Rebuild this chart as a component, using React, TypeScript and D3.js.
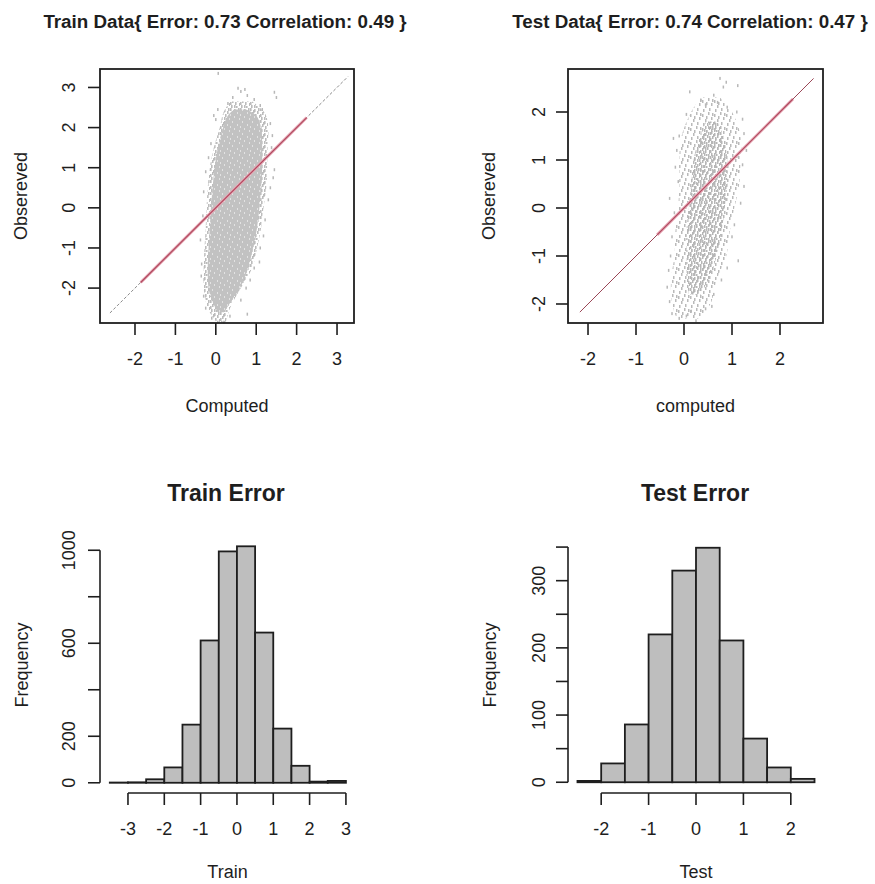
import React from "react";
import * as d3 from "d3";

// ---- histogram data ----
const trainBreaks = [-3.5, -3, -2.5, -2, -1.5, -1, -0.5, 0, 0.5, 1, 1.5, 2, 2.5, 3];
const trainCounts = [1, 2, 15, 66, 250, 612, 995, 1017, 646, 233, 73, 5, 8];
const testBreaks = [-2.5, -2, -1.5, -1, -0.5, 0, 0.5, 1, 1.5, 2, 2.5];
const testCounts = [2, 28, 86, 220, 315, 349, 211, 65, 22, 5];

// ---- scatter clouds: outline of the dense part, per observed level ----
const trainCoreY = [-2.85, -2.5, -2.0, -1.5, -1.0, -0.5, 0, 0.5, 1.0, 1.5, 2.0, 2.35, 2.65];
const trainCoreMin = [0.02, -0.2, -0.3, -0.3, -0.28, -0.25, -0.23, -0.2, -0.15, -0.05, 0.1, 0.18, 0.35];
const trainCoreMax = [0.25, 0.35, 0.62, 0.9, 1.02, 1.12, 1.18, 1.25, 1.27, 1.28, 1.3, 1.22, 0.9];
const trainInnerY = [-2.6, -2.3, -2.0, -1.5, -1.0, -0.5, 0, 0.5, 1.0, 1.5, 2.0, 2.3, 2.45];
const trainInnerMin = [0.05, -0.1, -0.18, -0.2, -0.18, -0.15, -0.12, -0.08, -0.03, 0.05, 0.18, 0.3, 0.45];
const trainInnerMax = [0.2, 0.4, 0.6, 0.8, 0.92, 1.02, 1.08, 1.12, 1.15, 1.15, 1.12, 1.0, 0.75];
const trainPoints: [number, number][] = [
  [0.06, 3.35], [0.55, 2.98], [0.62, 2.9], [0.72, 2.95], [0.78, 2.8], [1.45, 2.88], [1.5, 2.75],
  [0.3, 2.6], [0.42, 2.75], [0.95, 2.7], [1.1, 2.55], [1.15, 2.45], [0.05, 2.45], [-0.05, 2.3],
  [0.0, 2.2], [1.35, 2.1], [1.4, 1.8], [1.38, 1.5], [-0.12, 1.6], [-0.18, 1.25], [-0.25, 0.9],
  [1.45, 0.95], [1.42, 0.75], [1.35, 0.5], [1.3, 0.2], [-0.3, 0.4], [-0.32, -0.2], [1.22, -0.3],
  [1.18, -0.7], [1.1, -1.0], [1.08, -1.35], [-0.38, -0.8], [-0.35, -1.4], [-0.36, -1.7],
  [0.95, -1.5], [0.85, -1.8], [0.75, -2.0], [0.62, -2.3], [-0.3, -2.2], [-0.25, -2.5],
  [0.78, -2.65], [0.05, -2.85], [0.2, -2.85], [0.35, -2.7], [-0.1, -2.75]
];

const testCoreY = [-2.3, -2.0, -1.5, -1.0, -0.5, 0, 0.5, 1.0, 1.5, 2.0, 2.3];
const testCoreMin = [-0.15, -0.25, -0.27, -0.2, -0.18, -0.12, -0.1, -0.1, -0.05, 0.15, 0.35];
const testCoreMax = [0.3, 0.55, 0.68, 0.88, 0.95, 1.05, 1.15, 1.18, 1.18, 1.0, 0.75];
const testInnerY = [-1.8, -1.4, -1.0, -0.5, 0, 0.5, 1.0, 1.4, 1.8];
const testInnerMin = [0.1, 0.05, 0.05, 0.05, 0.1, 0.15, 0.2, 0.3, 0.45];
const testInnerMax = [0.35, 0.55, 0.68, 0.78, 0.85, 0.9, 0.9, 0.85, 0.7];
const testPoints: [number, number][] = [
  [0.75, 2.7], [0.88, 2.62], [0.82, 2.52], [1.12, 2.55], [0.12, 2.42], [0.35, 2.25], [0.45, 2.15],
  [0.62, 2.35], [0.7, 2.2], [0.9, 2.1], [1.1, 2.0], [1.22, 1.85], [0.05, 1.95], [-0.1, 1.5],
  [-0.22, 1.45], [-0.15, 1.2], [1.25, 1.55], [1.3, 1.2], [1.22, 0.9], [-0.18, 0.85], [-0.12, 0.55],
  [1.25, 0.45], [1.18, 0.1], [-0.3, 0.2], [-0.2, -0.1], [1.05, -0.35], [1.0, -0.6], [1.13, -1.1],
  [-0.25, -0.6], [-0.28, -1.0], [-0.32, -1.3], [0.9, -1.25], [0.78, -1.5], [-0.35, -1.65],
  [-0.3, -1.95], [0.62, -1.8], [0.58, -2.05], [-0.25, -2.2], [-0.1, -2.3], [0.05, -2.25],
  [0.25, -2.35], [0.15, -2.15], [0.45, -2.1]
];

// diagonal y = x and the highlighted stretch of it
const trainDiag = [-2.62, 3.27];
const trainFit = [-1.86, 2.25];
const testDiag = [-2.17, 2.7];
const testFit = [-0.56, 2.27];

const trainTicks = [-2, -1, 0, 1, 2, 3];
const testTicks = [-2, -1, 0, 1, 2];
const trainHistX = [-3, -2, -1, 0, 1, 2, 3];
const testHistX = [-2, -1, 0, 1, 2];
const trainHistY = [0, 200, 400, 600, 800, 1000];
const trainHistYLabels = [0, 200, 600, 1000];
const testHistY = [0, 50, 100, 150, 200, 250, 300, 350];
const testHistYLabels = [0, 100, 200, 300];

const FONT = "'Liberation Sans', Arial, sans-serif";
const INK = "#1e1e1e";

// speckle textures for the point clouds
const speckA = [[0, 0], [4, 1], [7, 3], [2, 4], [5, 6], [9, 7], [1, 9], [6, 10], [3, 2], [8, 0], [0, 6], [4, 9]];
const speckB = [[0, 0], [6, 2], [3, 5], [9, 7], [1, 10], [7, 11], [4, 1], [10, 4]];
const gaps = [[2, 1], [7, 4], [4, 8], [9, 10], [0, 6]];

type ScatterProps = {
  left: number; right: number; top: number; bottom: number;
  xDom: [number, number]; yDom: [number, number];
  ticks: number[];
  coreY: number[]; coreMin: number[]; coreMax: number[];
  innerY: number[]; innerMin: number[]; innerMax: number[];
  points: [number, number][];
  diag: number[]; fit: number[];
  outerFill: string; innerFill: string;
  title: string; titleX: number; xlab: string; ylabX: number; tickLabX: number;
  dashedEnds: boolean;
};

const Scatter = (p: ScatterProps) => {
  const x = d3.scaleLinear().domain(p.xDom).range([p.left, p.right]);
  const y = d3.scaleLinear().domain(p.yDom).range([p.bottom, p.top]);
  const band = (ys: number[], mn: number[], mx: number[]) =>
    d3.area<number>()
      .y(i => y(ys[i]))
      .x0(i => x(mn[i]))
      .x1(i => x(mx[i]))
      .curve(d3.curveCatmullRom)(d3.range(ys.length)) || "";
  const cx = (p.left + p.right) / 2;
  const cy = (p.top + p.bottom) / 2;
  return (
    <g>
      <text x={p.titleX} y={28} textAnchor="middle" fontSize={18.8} fontWeight="bold" fill={INK}>{p.title}</text>
      <path d={band(p.coreY, p.coreMin, p.coreMax)} fill={p.outerFill} />
      <path d={band(p.innerY, p.innerMin, p.innerMax)} fill={p.innerFill} />
      {p.points.map((d, i) => (
        <rect key={i} x={x(d[0]) - 0.75} y={y(d[1]) - 1.5} width={1.5} height={3} fill="#b8b8b8" />
      ))}
      <line x1={x(p.diag[0])} y1={y(p.diag[0])} x2={x(p.diag[1])} y2={y(p.diag[1])}
        stroke={p.dashedEnds ? "#8a8a8a" : "#9a4656"} strokeWidth={1}
        strokeDasharray={p.dashedEnds ? "3 2" : undefined} />
      <line x1={x(p.fit[0])} y1={y(p.fit[0])} x2={x(p.fit[1])} y2={y(p.fit[1])}
        stroke="#e8a9b6" strokeWidth={3} />
      <line x1={x(p.fit[0])} y1={y(p.fit[0])} x2={x(p.fit[1])} y2={y(p.fit[1])}
        stroke="#b04a60" strokeWidth={1.2} />
      <rect x={p.left} y={p.top} width={p.right - p.left} height={p.bottom - p.top}
        fill="none" stroke={INK} strokeWidth={1.8} />
      {p.ticks.map(t => (
        <g key={"x" + t}>
          <line x1={x(t)} x2={x(t)} y1={p.bottom} y2={p.bottom + 12} stroke={INK} strokeWidth={1.6} />
          <text x={x(t)} y={p.bottom + 41.5} textAnchor="middle" fontSize={18} fill={INK}>{t}</text>
        </g>
      ))}
      {p.ticks.filter(t => y(t) >= p.top && y(t) <= p.bottom).map(t => (
        <g key={"y" + t}>
          <line x1={p.left - 12} x2={p.left} y1={y(t)} y2={y(t)} stroke={INK} strokeWidth={1.6} />
          <text transform={`translate(${p.tickLabX},${y(t)}) rotate(-90)`} textAnchor="middle"
            fontSize={18} fill={INK}>{t}</text>
        </g>
      ))}
      <text x={cx} y={p.bottom + 89} textAnchor="middle" fontSize={18} fill={INK}>{p.xlab}</text>
      <text transform={`translate(${p.ylabX},${cy}) rotate(-90)`} textAnchor="middle"
        fontSize={18} fill={INK}>Obsereved</text>
    </g>
  );
};

type HistProps = {
  left: number; right: number; top: number; bottom: number;
  xDom: [number, number]; yDom: [number, number];
  breaks: number[]; counts: number[];
  xTicks: number[]; yTicks: number[]; yLabels: number[];
  title: string; titleX: number; xlab: string; ylabX: number; tickLabX: number;
};

const Hist = (p: HistProps) => {
  const x = d3.scaleLinear().domain(p.xDom).range([p.left, p.right]);
  const y = d3.scaleLinear().domain(p.yDom).range([p.bottom, p.top]);
  const cx = (p.left + p.right) / 2;
  const cy = (p.top + p.bottom) / 2;
  const xt0 = p.xTicks[0], xt1 = p.xTicks[p.xTicks.length - 1];
  const yt0 = p.yTicks[0], yt1 = p.yTicks[p.yTicks.length - 1];
  return (
    <g>
      <text x={p.titleX} y={501} textAnchor="middle" fontSize={23} fontWeight="bold" fill={INK}>{p.title}</text>
      {p.counts.map((c, i) => (
        <rect key={i} x={x(p.breaks[i])} y={y(c)} width={x(p.breaks[i + 1]) - x(p.breaks[i])}
          height={y(0) - y(c)} fill="#bebebe" stroke={INK} strokeWidth={1.8} />
      ))}
      <line x1={x(xt0)} x2={x(xt1)} y1={p.bottom} y2={p.bottom} stroke={INK} strokeWidth={1.6} />
      {p.xTicks.map(t => (
        <g key={"x" + t}>
          <line x1={x(t)} x2={x(t)} y1={p.bottom} y2={p.bottom + 12} stroke={INK} strokeWidth={1.6} />
          <text x={x(t)} y={p.bottom + 41.5} textAnchor="middle" fontSize={18} fill={INK}>{t}</text>
        </g>
      ))}
      <line x1={p.left} x2={p.left} y1={y(yt0)} y2={y(yt1)} stroke={INK} strokeWidth={1.6} />
      {p.yTicks.map(t => (
        <line key={"y" + t} x1={p.left - 12} x2={p.left} y1={y(t)} y2={y(t)} stroke={INK} strokeWidth={1.6} />
      ))}
      {p.yLabels.map(t => (
        <text key={"l" + t} transform={`translate(${p.tickLabX},${y(t)}) rotate(-90)`} textAnchor="middle"
          fontSize={18} fill={INK}>{t}</text>
      ))}
      <text x={cx} y={p.bottom + 85} textAnchor="middle" fontSize={18} fill={INK}>{p.xlab}</text>
      <text transform={`translate(${p.ylabX},${cy}) rotate(-90)`} textAnchor="middle"
        fontSize={18} fill={INK}>Frequency</text>
    </g>
  );
};

export default function App() {
  return (
    <svg width={875} height={884} style={{ position: "absolute", left: 0, top: 0, background: "#fff" }}
      fontFamily={FONT}>
      <defs>
        <pattern id="trainOuter" width={10} height={12} patternUnits="userSpaceOnUse">
          {speckA.map(([a, b], i) => <rect key={i} x={a} y={b} width={1.6} height={3} fill="#bcbcbc" />)}
        </pattern>
        <pattern id="trainInner" width={10} height={12} patternUnits="userSpaceOnUse">
          <rect width={10} height={12} fill="#c2c2c2" />
          {gaps.map(([a, b], i) => <rect key={i} x={a} y={b} width={1} height={2} fill="#e2e2e2" />)}
        </pattern>
        <pattern id="testOuter" width={12} height={14} patternUnits="userSpaceOnUse">
          {speckB.map(([a, b], i) => <rect key={i} x={a} y={b} width={1.5} height={3} fill="#bababa" />)}
        </pattern>
        <pattern id="testInner" width={10} height={12} patternUnits="userSpaceOnUse">
          {speckA.map(([a, b], i) => <rect key={i} x={a} y={b} width={1.5} height={3} fill="#b6b6b6" />)}
        </pattern>
      </defs>
      <rect width={875} height={884} fill="#fff" />
      <Scatter left={100} right={354} top={69} bottom={323}
        xDom={[-2.866, 3.42]} yDom={[-2.87, 3.46]} ticks={trainTicks}
        coreY={trainCoreY} coreMin={trainCoreMin} coreMax={trainCoreMax}
        innerY={trainInnerY} innerMin={trainInnerMin} innerMax={trainInnerMax}
        points={trainPoints} diag={trainDiag} fit={trainFit}
        outerFill="url(#trainOuter)" innerFill="url(#trainInner)"
        title="Train Data{ Error: 0.73 Correlation: 0.49 }" titleX={225}
        xlab="Computed" ylabX={27} tickLabX={74.5} dashedEnds={true} />
      <Scatter left={568} right={823} top={69} bottom={323}
        xDom={[-2.417, 2.896]} yDom={[-2.396, 2.896]} ticks={testTicks}
        coreY={testCoreY} coreMin={testCoreMin} coreMax={testCoreMax}
        innerY={testInnerY} innerMin={testInnerMin} innerMax={testInnerMax}
        points={testPoints} diag={testDiag} fit={testFit}
        outerFill="url(#testOuter)" innerFill="url(#testInner)"
        title="Test Data{ Error: 0.74 Correlation: 0.47 }" titleX={690}
        xlab="computed" ylabX={495} tickLabX={544.5} dashedEnds={false} />
      <Hist left={100} right={355} top={537} bottom={793}
        xDom={[-3.77, 3.25]} yDom={[-44, 1057]} breaks={trainBreaks} counts={trainCounts}
        xTicks={trainHistX} yTicks={trainHistY} yLabels={trainHistYLabels}
        title="Train Error" titleX={226} xlab="Train" ylabX={28} tickLabX={74.5} />
      <Hist left={568} right={824} top={537} bottom={793}
        xDom={[-2.7, 2.7]} yDom={[-16, 365]} breaks={testBreaks} counts={testCounts}
        xTicks={testHistX} yTicks={testHistY} yLabels={testHistYLabels}
        title="Test Error" titleX={695} xlab="Test" ylabX={496} tickLabX={544.5} />
    </svg>
  );
}
